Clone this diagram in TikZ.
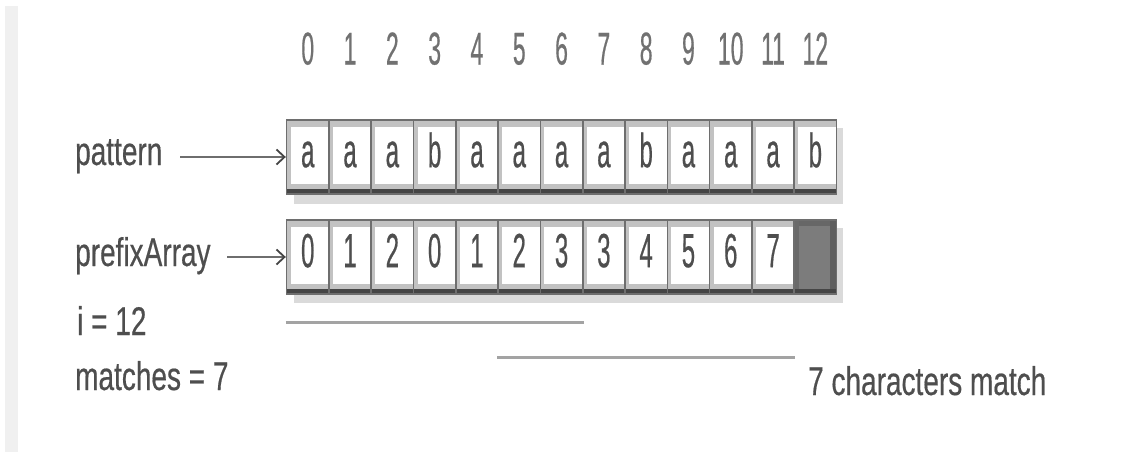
\documentclass[tikz,border=0pt]{standalone}
\usepackage{fontspec}
\setmainfont{Liberation Sans}[FakeStretch=0.70,FakeBold=0.4]
\newfontfamily\narrowfont{Liberation Sans}[FakeStretch=0.5,FakeBold=0.4]
\usetikzlibrary{arrows.meta}
\definecolor{inkgray}{HTML}{4E4E4E}
\definecolor{framegray}{HTML}{6E6E6E}
\definecolor{bevelgray}{HTML}{C2C2C2}
\definecolor{basegray}{HTML}{454545}
\definecolor{shadowgray}{HTML}{DADADA}
\definecolor{fillgray}{HTML}{7C7C7C}
\definecolor{edgegray}{HTML}{5E5E5E}
\definecolor{rulegray}{HTML}{A3A3A3}
\definecolor{bandgray}{HTML}{F0F0F0}

\begin{document}
\begin{tikzpicture}[x=1pt,y=-1pt,
  cell/.style={draw=framegray,line width=1.6pt,fill=white,minimum width=42.3pt,minimum height=74pt,inner sep=0pt,
    text height=34.4pt,text depth=14pt,font=\narrowfont\fontsize{48}{48}\selectfont,text=inkgray,
    path picture={
      \fill[bevelgray] (path picture bounding box.north west) rectangle ([yshift=-7pt]path picture bounding box.north east);
      \fill[bevelgray] (path picture bounding box.north west) rectangle ([xshift=4pt]path picture bounding box.south west);
      \fill[bevelgray] ([yshift=10pt]path picture bounding box.south west) rectangle (path picture bounding box.south east);
      \fill[basegray] ([yshift=5pt]path picture bounding box.south west) rectangle (path picture bounding box.south east);}},
  emptycell/.style={cell,fill=fillgray,
    path picture={
      \fill[edgegray!70!fillgray] (path picture bounding box.north west) rectangle ([yshift=-6pt]path picture bounding box.north east);
      \fill[edgegray!60!fillgray] (path picture bounding box.north west) rectangle ([xshift=5pt]path picture bounding box.south west);
      \fill[edgegray] ([xshift=-7pt]path picture bounding box.north east) rectangle (path picture bounding box.south east);
      \fill[basegray] ([yshift=5pt]path picture bounding box.south west) rectangle (path picture bounding box.south east);}},
  idx/.style={font=\narrowfont\fontsize{46}{46}\selectfont,text=inkgray!80,inner sep=0pt,text height=33pt,text depth=0pt},
  lbl/.style={font=\fontsize{40}{44}\selectfont,text=inkgray,inner sep=0pt,anchor=base west},
  ptr/.style={draw=framegray,line width=2.6pt,-{Straight Barb[length=8pt,width=15pt,line width=1.8pt,color=basegray]}},
  matchline/.style={draw=rulegray,line width=3pt}]
  % page and left band
  \fill[white] (0,0) rectangle (1137,452);
  \fill[bandgray] (5,6) rectangle (18,452);
  % shadows under the two arrays
  \fill[shadowgray] (294,128) rectangle (843,204);
  \fill[shadowgray] (294,228) rectangle (843,303);
  % the pattern
  \foreach \c [count=\i from 0] in {a,a,a,b,a,a,a,a,b,a,a,a,b}
    \node[cell] (p\i) at ({307.75+42.3*\i},157) {\c};
  % the prefix array, last entry not filled yet
  \foreach \c [count=\i from 0] in {0,1,2,0,1,2,3,3,4,5,6,7}
    \node[cell] (f\i) at ({307.75+42.3*\i},257) {\c};
  \node[emptycell] (f12) at ({307.75+42.3*12},257) {};
  % indices
  \foreach \i in {0,...,12}
    \node[idx] (n\i) at ({307.75+42.3*\i},48) {\i};
  % labels and pointers
  \node[lbl] (patlbl) at (75,165) {pattern};
  \node[lbl] (prelbl) at (75,266) {prefixArray};
  \node[lbl] (ilbl) at (77,335) {i = 12};
  \node[lbl] (matlbl) at (75,390) {matches = 7};
  \coordinate (patstart) at (180,157);
  \coordinate (prestart) at (227,257);
  \draw[ptr] (patstart) -- (patstart -| p0.west);
  \draw[ptr] (prestart) -- (prestart -| f0.west);
  % the two matching stretches
  \draw[matchline] ([yshift=-28pt]f0.south west) -- ([yshift=-28pt]f6.south east);
  \draw[matchline] ([yshift=-63pt]f5.south west) -- ([yshift=-63pt]f11.south east);
  \node[lbl] (matchtxt) at (808,395) {7 characters match};
\end{tikzpicture}
\end{document}
